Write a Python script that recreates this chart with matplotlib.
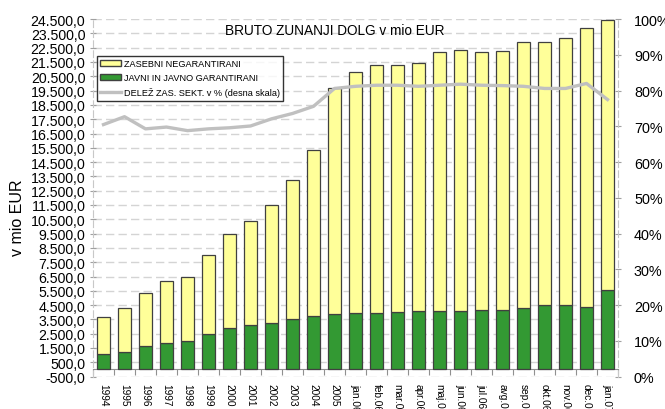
import matplotlib
matplotlib.use("Agg")
import matplotlib.pyplot as plt
from matplotlib.ticker import FixedLocator, FuncFormatter
from matplotlib.lines import Line2D
from matplotlib.patches import Patch
import numpy as np

plt.rcParams['font.family'] = ['Liberation Sans', 'DejaVu Sans']

labels = ['1994', '1995', '1996', '1997', '1998', '1999', '2000', '2001', '2002',
          '2003', '2004', '2005', 'jan.06', 'feb.06', 'mar.06', 'apr.06', 'maj.06',
          'jun.06', 'jul.06', 'avg.06', 'sep.06', 'okt.06', 'nov.06', 'dec.06', 'jan.07']

# skupni dolg (vrh stolpca) in javni + javno garantirani, mio EUR
total = [3692, 4280, 5371, 6168, 6490, 8007, 9476, 10406, 11524, 13231, 15350, 19664,
         20810, 21315, 21315, 21455, 22203, 22343, 22203, 22249, 22880, 22902, 23203,
         23902, 24441]
javni = [1105, 1203, 1664, 1874, 2014, 2483, 2881, 3112, 3252, 3531, 3762, 3860,
         3930, 3972, 4042, 4112, 4091, 4091, 4182, 4182, 4322, 4490, 4510, 4371, 5559]
# delez zasebnega sektorja v %
delez = [70.5, 72.7, 69.3, 69.8, 68.8, 69.3, 69.6, 70.1, 72.1, 73.6, 75.6, 80.6,
         81.2, 81.5, 81.5, 81.2, 81.5, 81.8, 81.5, 81.4, 81.2, 80.6, 80.6, 82.0, 77.5]

zasebni = [t - j for t, j in zip(total, javni)]
x = np.arange(len(labels))

fig = plt.figure(figsize=(6.65, 4.10), dpi=100)
ax = fig.add_axes([93 / 665, 1 - 377.6 / 410, (618 - 93) / 665, (377.6 - 20.1) / 410])

ax.bar(x, javni, 0.63, color='#339933', edgecolor='#404040', linewidth=0.9, zorder=3)
ax.bar(x, zasebni, 0.63, bottom=javni, color='#FFFF99', edgecolor='#404040',
       linewidth=0.9, zorder=3)

ax.set_xlim(-0.5, len(labels) - 0.5)
ax.set_ylim(-500, 24500)
yt = np.arange(-500, 24501, 1000)
ax.yaxis.set_major_locator(FixedLocator(yt))


def fmt(v, pos):
    s = '{:,.1f}'.format(v)
    return s.replace(',', 'X').replace('.', ',').replace('X', '.')


ax.yaxis.set_major_formatter(FuncFormatter(fmt))
ax.tick_params(axis='y', labelsize=10.2, direction='inout', length=5, color='#a0a0a0', pad=3)
ax.grid(axis='y', color='#d4d4d4', linestyle=(0, (6, 3)), linewidth=1, zorder=0)

# x os na vrednosti 0
ax.spines['bottom'].set_position(('data', 0))
ax.spines['bottom'].set_color('#909090')
ax.spines['top'].set_visible(False)
ax.spines['right'].set_visible(False)
ax.spines['left'].set_color('#c8c8c8')
ax.spines['left'].set_linestyle((0, (6, 3)))
ax.set_xticks(np.arange(-0.5, len(labels), 1))
ax.set_xticklabels([])
ax.tick_params(axis='x', which='major', direction='out', length=4, color='#909090')
ax.set_xticks(x, minor=True)
ax.set_xticklabels(labels, minor=True, rotation=270, fontsize=7.3, va='top', ha='center')
ax.tick_params(axis='x', which='minor', length=0, pad=10)

ax2 = ax.twinx()
ax2.plot(x, delez, color='#c0c0c0', linewidth=2.4, zorder=4)
ax2.set_ylim(0, 100)
ax2.set_yticks(np.arange(0, 101, 10))
ax2.yaxis.set_major_formatter(FuncFormatter(lambda v, p: '%d%%' % v))
ax2.tick_params(axis='y', labelsize=10.4, direction='inout', length=5, color='#a0a0a0', pad=9)
for s in ['top', 'left', 'bottom']:
    ax2.spines[s].set_visible(False)
ax2.spines['right'].set_color('#c8c8c8')
ax2.spines['right'].set_linestyle((0, (6, 3)))

handles = [Patch(facecolor='#FFFF99', edgecolor='#404040'),
           Patch(facecolor='#339933', edgecolor='#404040'),
           Line2D([], [], color='#c0c0c0', linewidth=2.4)]
names = ['ZASEBNI NEGARANTIRANI', 'JAVNI IN JAVNO GARANTIRANI',
         'DELEŽ ZAS. SEKT. v % (desna skala)']
leg = fig.legend(handles, names, loc='upper left', bbox_to_anchor=(97 / 665, 1 - 57 / 410),
                 fontsize=6.6, frameon=True, fancybox=False, borderpad=0.35, labelspacing=0.55,
                 handlelength=2.3, handletextpad=0.3, borderaxespad=0)
leg.get_frame().set_edgecolor('black')
leg.get_frame().set_linewidth(1)

fig.text(335 / 665, 1 - 31 / 410, 'BRUTO ZUNANJI DOLG v mio EUR', ha='center', va='center',
         fontsize=9.8)
fig.text(18 / 665, 1 - 218 / 410, 'v mio EUR', rotation=90, ha='center', va='center',
         fontsize=11.5)

fig.savefig('out.png', dpi=100)
